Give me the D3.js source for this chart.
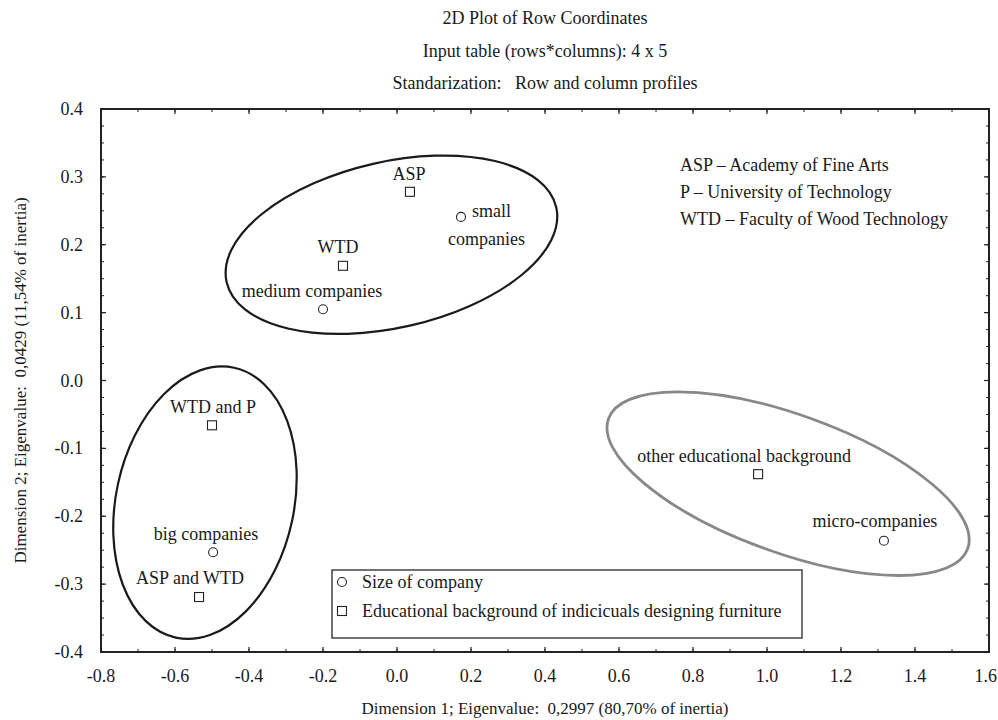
<!DOCTYPE html>
<html>
<head>
<meta charset="utf-8">
<script src="https://cdn.jsdelivr.net/npm/d3@7"></script>
<style>
  body { margin: 0; background: #fff; }
  svg text { font-family: "Liberation Serif", "Times New Roman", serif; fill: #1a1a1a; white-space: pre; }
</style>
</head>
<body>
<div id="chart"></div>
<script>
// Chart data
const titleLines = [
  "2D Plot of Row Coordinates",
  "Input table (rows*columns): 4 x 5",
  "Standarization:   Row and column profiles"
];
const xTitle = "Dimension 1; Eigenvalue:  0,2997 (80,70% of inertia)";
const yTitle = "Dimension 2; Eigenvalue:  0,0429 (11,54% of inertia)";

const xTickValues = [-0.8, -0.6, -0.4, -0.2, 0.0, 0.2, 0.4, 0.6, 0.8, 1.0, 1.2, 1.4, 1.6];
const xTickLabels = ["-0.8", "-0.6", "-0.4", "-0.2", "0.0", "0.2", "0.4", "0.6", "0.8", "1.0", "1.2", "1.4", "1.6"];
const yTickValues = [-0.4, -0.3, -0.2, -0.1, 0.0, 0.1, 0.2, 0.3, 0.4];
const yTickLabels = ["-0.4", "-0.3", "-0.2", "-0.1", "0.0", "0.1", "0.2", "0.3", "0.4"];

// row points: company size (circles) and education (squares)
const pointNames = ["ASP", "WTD", "medium companies", "small companies", "WTD and P",
  "big companies", "ASP and WTD", "other educational background", "micro-companies"];
const pointX = [0.035, -0.146, -0.2, 0.173, -0.5, -0.497, -0.535, 0.976, 1.316];
const pointY = [0.278, 0.169, 0.105, 0.241, -0.066, -0.253, -0.319, -0.138, -0.236];
const pointKind = ["edu", "edu", "size", "size", "edu", "size", "edu", "edu", "size"];

// group ellipses (centre in data units)
const groupCx = [-0.015, -0.519, 1.057];
const groupCy = [0.2, -0.18, -0.152];

const legendLabels = ["Size of company", "Educational background of indicicuals designing furniture"];
const notes = ["ASP \u2013 Academy of Fine Arts", "P \u2013 University of Technology", "WTD \u2013 Faculty of Wood Technology"];

// Layout
const W = 998, H = 720;
const margin = {top: 109, right: 9, bottom: 68, left: 101};
const width = W - margin.left - margin.right;
const height = H - margin.top - margin.bottom;

const svg = d3.select("#chart").append("svg")
  .attr("width", W).attr("height", H);

const g = svg.append("g")
  .attr("transform", "translate(" + margin.left + "," + margin.top + ")");

const x = d3.scaleLinear().domain([-0.8, 1.6]).range([0, width]);
const y = d3.scaleLinear().domain([-0.4, 0.4]).range([height, 0]);

// titles
svg.selectAll(".title").data(titleLines).enter().append("text")
  .attr("class", "title")
  .attr("x", margin.left + width / 2)
  .attr("y", (d, i) => [24, 57, 89][i])
  .attr("text-anchor", "middle")
  .style("font-size", "18px")
  .text(d => d);

// minor ticks
const xMinor = d3.range(-0.8, 1.6001, 0.1);
const yMinor = d3.range(-0.4, 0.4001, 0.025);

const tickColor = "#222";
// x ticks (bottom and top, pointing inward)
[height, 0].forEach(function(base) {
  const dir = base === 0 ? 1 : -1;
  g.append("g").selectAll("line").data(xMinor).enter().append("line")
    .attr("x1", d => x(d)).attr("x2", d => x(d))
    .attr("y1", base).attr("y2", base + dir * 3)
    .attr("stroke", tickColor).attr("stroke-width", 1);
  g.append("g").selectAll("line").data(xTickValues).enter().append("line")
    .attr("x1", d => x(d)).attr("x2", d => x(d))
    .attr("y1", base).attr("y2", base + dir * 5)
    .attr("stroke", tickColor).attr("stroke-width", 1.2);
});
// y ticks (left and right)
[0, width].forEach(function(base) {
  const dir = base === 0 ? 1 : -1;
  g.append("g").selectAll("line").data(yMinor).enter().append("line")
    .attr("y1", d => y(d)).attr("y2", d => y(d))
    .attr("x1", base).attr("x2", base + dir * 3)
    .attr("stroke", tickColor).attr("stroke-width", 1);
  g.append("g").selectAll("line").data(yTickValues).enter().append("line")
    .attr("y1", d => y(d)).attr("y2", d => y(d))
    .attr("x1", base).attr("x2", base + dir * 5)
    .attr("stroke", tickColor).attr("stroke-width", 1.2);
});

// frame
g.append("rect")
  .attr("x", 0).attr("y", 0).attr("width", width).attr("height", height)
  .attr("fill", "none").attr("stroke", "#222").attr("stroke-width", 2);

// tick labels (last one kept inside the window)
g.selectAll(".xlab").data(xTickValues).enter().append("text")
  .attr("x", (d, i) => i === xTickValues.length - 1 ? x(d) + 8 : x(d))
  .attr("y", height + 30)
  .attr("text-anchor", (d, i) => i === xTickValues.length - 1 ? "end" : "middle")
  .style("font-size", "18px")
  .text((d, i) => xTickLabels[i]);

g.selectAll(".ylab").data(yTickValues).enter().append("text")
  .attr("x", -18).attr("y", d => y(d) + 6)
  .attr("text-anchor", "end")
  .style("font-size", "18px")
  .text((d, i) => yTickLabels[i]);

// axis titles
svg.append("text")
  .attr("x", margin.left + width / 2).attr("y", 714)
  .attr("text-anchor", "middle")
  .style("font-size", "17px")
  .text(xTitle);

svg.append("text")
  .attr("transform", "translate(26," + (margin.top + height / 2) + ") rotate(-90)")
  .attr("text-anchor", "middle")
  .style("font-size", "17px")
  .text(yTitle);

// ellipses around the groups
const ellipseShape = [
  {rx: 169, ry: 83, rot: -12.8, color: "#1a1a1a", sw: 2.2},
  {rx: 89, ry: 138, rot: 12.2, color: "#1a1a1a", sw: 2.2},
  {rx: 191, ry: 69, rot: 19.9, color: "#888", sw: 2.8}
];
g.selectAll(".grp").data(groupCx).enter().append("ellipse")
  .attr("transform", (d, i) => "translate(" + x(d) + "," + y(groupCy[i]) + ") rotate(" + ellipseShape[i].rot + ")")
  .attr("rx", (d, i) => ellipseShape[i].rx)
  .attr("ry", (d, i) => ellipseShape[i].ry)
  .attr("fill", "none")
  .attr("stroke", (d, i) => ellipseShape[i].color)
  .attr("stroke-width", (d, i) => ellipseShape[i].sw);

// markers
const pts = pointNames.map((n, i) => ({name: n, x: pointX[i], y: pointY[i], kind: pointKind[i]}));

function drawMarker(sel, kind, cx, cy) {
  if (kind === "size") {
    sel.append("circle").attr("cx", cx).attr("cy", cy).attr("r", 4.5)
      .attr("fill", "#fff").attr("stroke", "#222").attr("stroke-width", 1.1);
  } else {
    sel.append("rect").attr("x", cx - 4.5).attr("y", cy - 4.5)
      .attr("width", 9).attr("height", 9)
      .attr("fill", "#fff").attr("stroke", "#222").attr("stroke-width", 1.1);
  }
}
pts.forEach(p => drawMarker(g, p.kind, x(p.x), y(p.y)));

// point labels
const labelShift = {
  "ASP": [-1, -12], "WTD": [-5, -13], "medium companies": [-11, -12],
  "WTD and P": [1, -12], "big companies": [-7, -12], "ASP and WTD": [-9, -13],
  "other educational background": [-14, -12], "micro-companies": [-9, -14]
};
pts.forEach(function(p) {
  const px = x(p.x), py = y(p.y);
  if (p.name === "small companies") {
    g.append("text").attr("x", px + 11).attr("y", py).style("font-size", "18px").text("small");
    g.append("text").attr("x", px - 13).attr("y", py + 28).style("font-size", "18px").text("companies");
    return;
  }
  const s = labelShift[p.name];
  g.append("text")
    .attr("x", px + s[0]).attr("y", py + s[1])
    .attr("text-anchor", "middle")
    .style("font-size", "18px")
    .text(p.name);
});

// notes (top right)
svg.selectAll(".note").data(notes).enter().append("text")
  .attr("x", 680).attr("y", (d, i) => 171 + i * 27)
  .style("font-size", "18px")
  .text(d => d);

// legend
const lg = svg.append("g").attr("transform", "translate(332,570)");
lg.append("rect").attr("width", 470).attr("height", 68)
  .attr("fill", "#fff").attr("stroke", "#444").attr("stroke-width", 1.5);
legendLabels.forEach(function(t, i) {
  drawMarker(lg, i === 0 ? "size" : "edu", 10, 12 + i * 29);
  lg.append("text").attr("x", 30).attr("y", 18 + i * 29)
    .style("font-size", "18px").text(t);
});
</script>
</body>
</html>
